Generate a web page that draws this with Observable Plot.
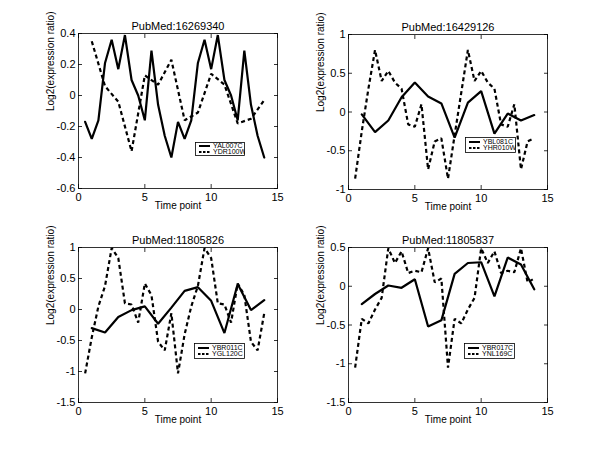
<!DOCTYPE html>
<html><head><meta charset="utf-8">
<script src="https://cdn.jsdelivr.net/npm/d3@7"></script>
<script src="https://cdn.jsdelivr.net/npm/@observablehq/plot@0.6"></script>
<style>
body{margin:0;background:#fff;}
#root{position:relative;width:600px;height:450px;background:#fff;font-family:"Liberation Sans",Arial,sans-serif;}
.panel{position:absolute;}
.legend{position:absolute;}
</style></head><body><div id="root"></div>
<script>
// ---- data ----
const titles = ["PubMed:16269340", "PubMed:16429126", "PubMed:11805826", "PubMed:11805837"];
const solidNames = ["YAL007C", "YBL081C", "YBR011C", "YBR017C"];
const dashedNames = ["YDR100W", "YHR010W", "YGL120C", "YNL169C"];
const xTicks = [0, 5, 10, 15];
const yTicks1 = [-0.6, -0.4, -0.2, 0, 0.2, 0.4];
const yTicks2 = [-1, -0.5, 0, 0.5, 1];
const yTicks3 = [-1.5, -1, -0.5, 0, 0.5, 1];
const yTicks4 = [-1.5, -1, -0.5, 0, 0.5];

const timeHalf = [0.5,1,1.5,2,2.5,3,3.5,4,4.5,5,5.5,6,6.5,7,7.5,8,8.5,9,9.5,10,10.5,11,11.5,12,12.5,13,13.5,14];
const timeWhole = [1,2,3,4,5,6,7,8,9,10,11,12,13,14];

const yal007c = [-0.17,-0.28,-0.16,0.21,0.36,0.17,0.39,0.10,0.0,-0.16,0.29,-0.06,-0.26,-0.40,-0.17,-0.28,-0.16,0.21,0.36,0.17,0.39,0.10,0.0,-0.16,0.29,-0.06,-0.26,-0.40];
const ydr100w = [0.35,0.06,-0.04,-0.36,0.13,0.07,0.23,-0.16,-0.11,0.14,0.07,-0.18,-0.15,-0.03];
const ybl081c = [-0.03,-0.26,-0.11,0.19,0.38,0.20,0.11,-0.33,0.12,0.27,-0.28,-0.02,-0.11,-0.04];
const yhr010w = [-0.86,-0.25,0.30,0.80,0.40,0.53,0.38,0.30,-0.16,-0.19,0.10,-0.74,-0.38,-0.34,-0.86,-0.30,0.25,0.80,0.40,0.53,0.38,0.30,-0.16,-0.19,0.10,-0.74,-0.38,-0.34];
const ybr011c = [-0.30,-0.37,-0.12,-0.01,0.05,-0.23,0.03,0.30,0.36,0.14,-0.38,0.41,-0.01,0.15];
const ygl120c = [-1.03,-0.45,0.05,0.38,0.99,0.83,0.10,0.08,-0.21,0.42,0.23,-0.52,-0.66,-0.06,-1.03,-0.40,0.05,0.38,0.99,0.83,0.10,0.08,-0.21,0.42,0.23,-0.52,-0.66,-0.06];
const ybr017c = [-0.23,-0.10,0.01,-0.02,0.09,-0.52,-0.44,0.16,0.30,0.31,-0.13,0.37,0.28,-0.04];
const ynl169c = [-1.05,-0.42,-0.48,-0.30,-0.15,0.49,0.30,0.45,0.17,0.20,0.18,0.49,0.05,0.10,-1.05,-0.42,-0.48,-0.30,-0.15,0.49,0.30,0.45,0.17,0.20,0.18,0.49,0.05,0.10];

// ---- layout ----
const panels = [
  {title: titles[0], yTicks: yTicks1, solidT: timeHalf, solid: yal007c, dashedT: timeWhole, dashed: ydr100w, left: 0, top: 10, lx: 195, ly: 142, lw: 50, lh: 14},
  {title: titles[1], yTicks: yTicks2, solidT: timeWhole, solid: ybl081c, dashedT: timeHalf, dashed: yhr010w, left: 270, top: 11, lx: 465, ly: 137, lw: 51, lh: 16},
  {title: titles[2], yTicks: yTicks3, solidT: timeWhole, solid: ybr011c, dashedT: timeHalf, dashed: ygl120c, left: 0, top: 224, lx: 194, ly: 343, lw: 51, lh: 16},
  {title: titles[3], yTicks: yTicks4, solidT: timeWhole, solid: ybr017c, dashedT: timeHalf, dashed: ynl169c, left: 270, top: 224, lx: 464, ly: 343, lw: 51, lh: 16}
];

const root = document.getElementById("root");
const fmt = d => String(d);

panels.forEach((p, i) => {
  const solidData = p.solidT.map((t, j) => ({t, v: p.solid[j]}));
  const dashedData = p.dashedT.map((t, j) => ({t, v: p.dashed[j]}));
  const yt = p.yTicks;
  const chart = Plot.plot({
    width: 280, height: 210,
    marginLeft: 78, marginRight: 3, marginTop: 23, marginBottom: 32,
    style: {fontFamily: "'Liberation Sans', Arial, sans-serif", fontSize: "11px", background: "transparent", overflow: "visible", color: "#000"},
    x: {domain: [0, 15]},
    y: {domain: [yt[0], yt[yt.length - 1]]},
    marks: [
      Plot.axisX({ticks: xTicks, tickSize: 0, tickPadding: 5, tickFormat: fmt, label: null, fontSize: 11}),
      Plot.axisX({ticks: xTicks, tickSize: -4, text: null, label: null, strokeWidth: 0.8}),
      Plot.axisX({anchor: "top", ticks: xTicks, tickSize: -4, text: null, label: null, strokeWidth: 0.8}),
      Plot.axisY({ticks: yt, tickSize: 0, tickPadding: 3, tickFormat: fmt, label: null, fontSize: 11}),
      Plot.axisY({ticks: yt, tickSize: -4, text: null, label: null, strokeWidth: 0.8}),
      Plot.axisY({anchor: "right", ticks: yt, tickSize: -4, text: null, label: null, strokeWidth: 0.8}),
      Plot.line(solidData, {x: "t", y: "v", stroke: "#000", strokeWidth: 2.2, strokeLinejoin: "miter"}),
      Plot.line(dashedData, {x: "t", y: "v", stroke: "#000", strokeWidth: 2.2, strokeDasharray: "4,3", strokeLinejoin: "miter", strokeLinecap: "butt"}),
      Plot.frame({stroke: "#000", strokeWidth: 0.8}),
      Plot.text([p.title], {frameAnchor: "top", dy: -11, fontSize: 11}),
      Plot.text(["Time point"], {frameAnchor: "bottom", dy: 20, fontSize: 10}),
      Plot.text(["Log2(expression ratio)"], {frameAnchor: "left", dx: -28, rotate: -90, fontSize: 10})
    ]
  });
  const wrap = document.createElement("div");
  wrap.className = "panel";
  wrap.style.left = p.left + "px";
  wrap.style.top = p.top + "px";
  wrap.appendChild(chart);
  root.appendChild(wrap);

  // legend
  const ns = "http://www.w3.org/2000/svg";
  const lg = document.createElementNS(ns, "svg");
  lg.setAttribute("class", "legend");
  lg.setAttribute("width", p.lw);
  lg.setAttribute("height", p.lh);
  lg.style.left = p.lx + "px";
  lg.style.top = p.ly + "px";
  lg.style.position = "absolute";
  const rect = document.createElementNS(ns, "rect");
  rect.setAttribute("x", 0.5); rect.setAttribute("y", 0.5);
  rect.setAttribute("width", p.lw - 1); rect.setAttribute("height", p.lh - 1);
  rect.setAttribute("fill", "#fff"); rect.setAttribute("stroke", "#000"); rect.setAttribute("stroke-width", 0.8);
  lg.appendChild(rect);
  [[solidNames[i], null], [dashedNames[i], "2.5,1.5"]].forEach(([name, dash], k) => {
    const cy = p.lh / 2 + (k === 0 ? -3 : 3);
    const ln = document.createElementNS(ns, "line");
    ln.setAttribute("x1", 4); ln.setAttribute("x2", 15);
    ln.setAttribute("y1", cy); ln.setAttribute("y2", cy);
    ln.setAttribute("stroke", "#000"); ln.setAttribute("stroke-width", 2);
    if (dash) ln.setAttribute("stroke-dasharray", dash);
    lg.appendChild(ln);
    const tx = document.createElementNS(ns, "text");
    tx.setAttribute("x", 18); tx.setAttribute("y", cy);
    tx.setAttribute("dy", "0.35em");
    tx.setAttribute("font-size", 7);
    tx.setAttribute("font-family", "'Liberation Sans', Arial, sans-serif");
    tx.textContent = name;
    lg.appendChild(tx);
  });
  root.appendChild(lg);
});
</script></body></html>
